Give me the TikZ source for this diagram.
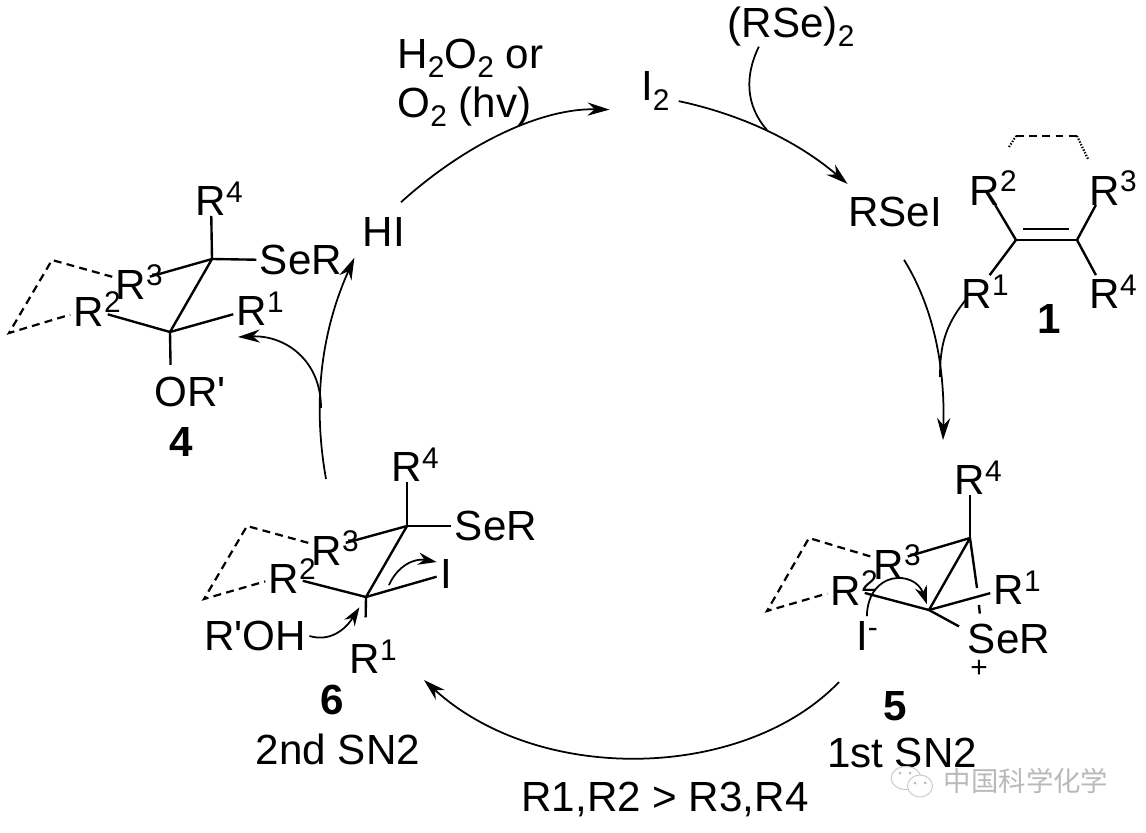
\documentclass[tikz,border=0pt]{standalone}
\usepackage{fontspec}
\usepackage{xcolor}
\setmainfont{Liberation Sans}
\newfontfamily\cjkfont{Noto Sans CJK SC}
\usetikzlibrary{arrows.meta,shapes.geometric}
\newcommand{\supfont}{\fontsize{17}{17}\selectfont}
\newcommand{\Rsup}[1]{R\rlap{\raisebox{7.5pt}{\supfont #1}}}
\newcommand{\lowtwo}{\raisebox{-5.5pt}{\supfont 2}}

\begin{document}
\begin{tikzpicture}[
  x=0.02cm,y=-0.02cm,
  lbl/.style={font=\fontsize{24}{28}\selectfont,inner xsep=2pt,inner ysep=0pt,outer sep=0pt},
  num/.style={lbl,font=\fontsize{24}{28}\selectfont\bfseries},
  bond/.style={line width=1.35pt},
  dbond/.style={line width=1.25pt,dash pattern=on 4.5pt off 3pt},
  hbond/.style={line width=1.25pt,dash pattern=on 0.8pt off 0.9pt},
  arr/.style={-{Stealth[length=12.5pt,width=7.5pt]},line width=1pt},
  arrs/.style={-{Stealth[length=10.5pt,width=7pt]},line width=1pt},
  line/.style={line width=1pt},
  wm/.style={draw=gray!45,fill=white,line width=0.5pt}
]
\useasboundingbox (0,0) rectangle (1146,832);

\node[lbl,anchor=base] (rse) at (791,37) {(RSe)\lowtwo};
\node[lbl] (i2) at (647,91) {I\rlap{\lowtwo}};
\node[lbl] (rsei) at (895,212) {RSeI};
\node[lbl] (hi) at (384,232) {HI};
\node[lbl,anchor=base west] (oxa) at (394,68) {H\lowtwo O\lowtwo{} or};
\node[lbl,anchor=base west] (oxb) at (394,117) {O\lowtwo{} (hv)};
\node[lbl,anchor=base] (cond) at (665,811) {R1,R2 > R3,R4};

\coordinate (c1a) at (1016,240);
\coordinate (c1b) at (1077,240);
\coordinate (c1c) at (1023,229);
\coordinate (c1d) at (1069,229);
\coordinate (p1a) at (1016,136);
\coordinate (p1b) at (1077,136);
\coordinate (d1a) at (1009,147);
\coordinate (d1b) at (1088,159);
\node[lbl] (r21) at (985,188) {\Rsup{2}};
\node[lbl] (r31) at (1105,188) {\Rsup{3}};
\node[lbl] (r11) at (977,292) {\Rsup{1}};
\node[lbl] (r41) at (1105,292) {\Rsup{4}};
\node[num] (n1) at (1049,319) {1};

\draw[bond] (c1a) -- (c1b);
\draw[bond] (c1c) -- (c1d);
\draw[bond] (c1a) -- (r21);
\draw[bond] (c1b) -- (r31);
\draw[bond] (c1a) -- (r11);
\draw[bond] (c1b) -- (r41);
\draw[dbond] (p1a) -- (p1b);
\draw[hbond] (d1a) -- (p1a);
\draw[hbond] (p1b) -- (d1b);

\coordinate (c4a) at (212,259);
\coordinate (c4b) at (170,332);
\coordinate (p4a) at (52,260);
\coordinate (p4b) at (9,333);
\node[lbl] (r44) at (211,199) {\Rsup{4}};
\node[lbl] (se4) at (274,260) {S\rlap{eR}};
\node[lbl] (r34) at (131,282) {\Rsup{3}};
\node[lbl] (r24) at (89,309) {\Rsup{2}};
\node[lbl] (r14) at (252,309) {\Rsup{1}};
\node[lbl] (or4) at (171,392) {O\rlap{R\textquotesingle}};
\node[num] (n4) at (181,442) {4};

\draw[bond] (c4a) -- (c4b);
\draw[bond] (c4a) -- (r44);
\draw[bond] (c4a) -- (se4);
\draw[bond] (c4a) -- (r34);
\draw[bond] (c4b) -- (r24);
\draw[bond] (c4b) -- (r14);
\draw[bond,shorten >=7pt] (c4b) -- (or4);
\draw[dbond] (r34) -- (p4a) -- (p4b) -- (r24);

\coordinate (c6a) at (407,526);
\coordinate (c6b) at (366,597);
\coordinate (p6a) at (247,526);
\coordinate (p6b) at (204,599);
\node[lbl] (r46) at (407,465) {\Rsup{4}};
\node[lbl] (se6) at (469,526) {S\rlap{eR}};
\node[lbl] (r36) at (327,548) {\Rsup{3}};
\node[lbl] (r26) at (284,576) {\Rsup{2}};
\node[lbl] (i6) at (446,574) {I};
\node[lbl] (r16) at (365,657) {\Rsup{1}};
\node[lbl] (roh) at (255,636) {R\textquotesingle OH};
\node[num] (n6) at (332,700) {6};
\node[lbl] (sn6) at (338,749) {2nd SN2};

\draw[bond] (c6a) -- (c6b);
\draw[bond] (c6a) -- (r46);
\draw[bond] (c6a) -- (se6);
\draw[bond] (c6a) -- (r36);
\draw[bond] (c6b) -- (r26);
\draw[bond] (c6b) -- (i6);
\draw[bond,shorten >=13pt] (c6b) -- (r16);
\draw[dbond] (r36) -- (p6a) -- (p6b) -- (r26);

\coordinate (c5a) at (970,538);
\coordinate (c5b) at (929,610);
\coordinate (p5a) at (809,538);
\coordinate (p5b) at (767,611);
\coordinate (g5a) at (977,588);
\coordinate (g5b) at (979,605);
\node[lbl] (r45) at (970,478) {\Rsup{4}};
\node[lbl] (r35) at (889,562) {\Rsup{3}};
\node[lbl] (r25) at (846,588) {\Rsup{2}};
\node[lbl] (r15) at (1009,588) {\Rsup{1}};
\node[lbl] (se5) at (982,639) {S\rlap{eR}};
\node[lbl] (i5) at (862,636) {I\rlap{\raisebox{7.5pt}{\supfont -}}};
\node[lbl,font=\supfont] (pl5) at (979,669) {+};
\node[num] (n5) at (895,706) {5};
\node[lbl] (sn5) at (902,753) {1st SN2};

\draw[bond] (c5a) -- (c5b);
\draw[bond] (c5a) -- (r45);
\draw[bond] (c5a) -- (r35);
\draw[bond] (c5b) -- (r25);
\draw[bond] (c5b) -- (r15);
\draw[bond,shorten >=3.5pt] (c5b) -- (se5);
\draw[bond] (c5a) -- (g5a);
\draw[bond,shorten >=6pt] (g5b) -- (se5);
\draw[dbond] (r35) -- (p5a) -- (p5b) -- (r25);

\coordinate (in5) at (943,440);
\coordinate (join5) at (940,377);
\coordinate (join1) at (767,130);
\coordinate (out6) at (326,479);
\coordinate (join4) at (321,408);
\coordinate (in4) at (238,337);
\coordinate (out5) at (839,682);
\coordinate (in6) at (424,680);
\coordinate (bond6) at (389,585);

\draw[arr,shorten <=13pt,shorten >=16pt] (hi.north) .. controls (470,140) and (545,108) .. (i2.south west);
\draw[arr,shorten <=13pt,shorten >=11.5pt] (i2.-30) .. controls (730,112) and (790,135) .. (rsei.155);
\draw[line] (rse.-148) .. controls (745,75) and (745,105) .. (join1);
\draw[arr,shorten <=22pt] (rsei.-127) .. controls (935,310) and (945,370) .. (in5);
\draw[line,shorten <=-8pt] (r11.south west) .. controls (945,325) and (940,345) .. (join5);
\draw[arr] (out5) .. controls (745,780) and (540,786) .. (in6);
\draw[arr,shorten >=7pt] (out6) .. controls (312,400) and (322,330) .. (hi.south west);
\draw[arr] (join4) .. controls (321,360) and (285,335) .. (in4);
\draw[arrs,shorten >=7pt] (roh.east) .. controls (330,642) and (345,630) .. (c6b);
\draw[arrs] (bond6) .. controls (398,565) and (415,558) .. (i6.128);
\draw[arrs,shorten <=3pt,shorten >=3.5pt] (i5.72) .. controls (868,570) and (915,570) .. (c5b);

\node[wm,ellipse,minimum width=0.6cm,minimum height=0.46cm,inner sep=0pt] (wma) at (906,778) {};
\node[wm,ellipse,minimum width=0.5cm,minimum height=0.44cm,inner sep=0pt] (wmb) at (920,786) {};
\fill[gray!55] (900,773) circle (1.5) (910,773) circle (1.5) (915,783) circle (1.5) (925,783) circle (1.5);
\node[text=gray!55,font=\cjkfont\fontsize{15.6}{16}\selectfont,inner sep=0pt] (wmt) at (1026,781) {中国科学化学};

\end{tikzpicture}
\end{document}
